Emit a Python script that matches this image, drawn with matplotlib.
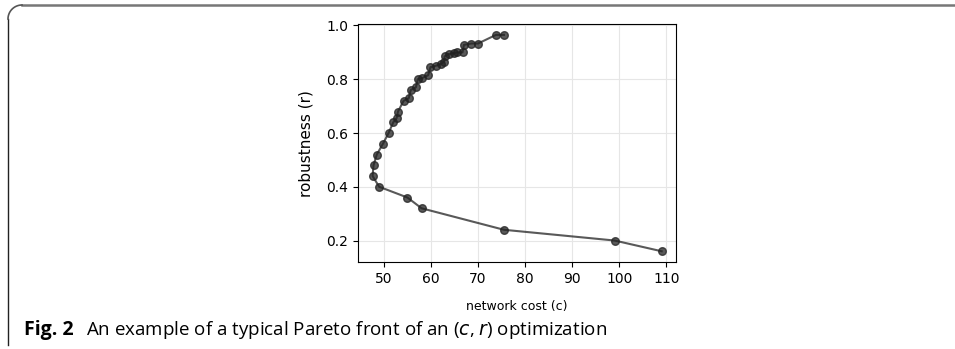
import matplotlib
matplotlib.use("Agg")
import matplotlib.pyplot as plt
from matplotlib.lines import Line2D
import numpy as np

# network cost (c) and robustness (r) along the Pareto front
cost = [75.5, 73.8, 70.0, 68.6, 67.0, 66.7, 65.6, 64.9, 63.8, 62.9, 62.8, 62.1,
        61.0, 59.9, 59.4, 58.2, 57.2, 56.8, 55.7, 55.3, 54.2, 53.0, 52.7, 52.0,
        51.0, 49.8, 48.5, 47.8, 47.6, 49.0, 55.0, 58.0, 75.5, 99.0, 109.0]
robustness = [0.965, 0.965, 0.933, 0.933, 0.928, 0.900, 0.900, 0.897, 0.894, 0.885,
              0.865, 0.857, 0.850, 0.845, 0.815, 0.805, 0.800, 0.770, 0.760, 0.730,
              0.720, 0.680, 0.655, 0.640, 0.600, 0.560, 0.520, 0.480, 0.440, 0.400,
              0.360, 0.320, 0.240, 0.200, 0.160]
xticks = [50, 60, 70, 80, 90, 100, 110]
yticks = [0.2, 0.4, 0.6, 0.8, 1.0]

fig = plt.figure(figsize=(9.55, 3.49), dpi=100)
ax = fig.add_axes([0.375, 0.249, 0.333, 0.682])
ax.plot(cost, robustness, color="#222222", alpha=0.75, lw=1.5,
        marker="o", markersize=5.5, markerfacecolor="#222222", markeredgecolor="#222222")
ax.set_xticks(xticks)
ax.set_yticks(yticks)
ax.set_xticklabels([str(t) for t in xticks])
ax.set_yticklabels([f"{t:.1f}" for t in yticks])
ax.grid(True, color="#e6e6e6", lw=0.8)
ax.set_axisbelow(True)
ax.tick_params(labelsize=10)
ax.set_xlabel("network cost (c)", fontsize=9, labelpad=10)
ax.set_ylabel("robustness (r)", fontsize=11, labelpad=9)

# outer box (rounded top-left corner)
fig.add_artist(Line2D([22/955, 954/955], [1 - 5/349, 1 - 5/349], color="#777777", lw=1.8,
                      transform=fig.transFigure))
fig.add_artist(Line2D([8/955, 8/955], [1 - 19/349, 1 - 345/349], color="#222222", lw=1.0,
                      transform=fig.transFigure))
th = np.linspace(np.pi/2, np.pi, 20)
rad = 14
cx, cy = 22, 19
fig.add_artist(Line2D((cx + rad*np.cos(th))/955, 1 - (cy - rad*np.sin(th))/349,
                      color="#555555", lw=1.2, transform=fig.transFigure))

fig.text(24/955, 1 - 330/349, "Fig. 2", fontsize=14, fontweight="bold",
         family="Open Sans", va="center", ha="left")
fig.text(86/955, 1 - 330/349, r"An example of a typical Pareto front of an ($c$, $r$) optimization",
         fontsize=13.5, family="Open Sans", va="center", ha="left")

fig.savefig("out.png", dpi=100)
